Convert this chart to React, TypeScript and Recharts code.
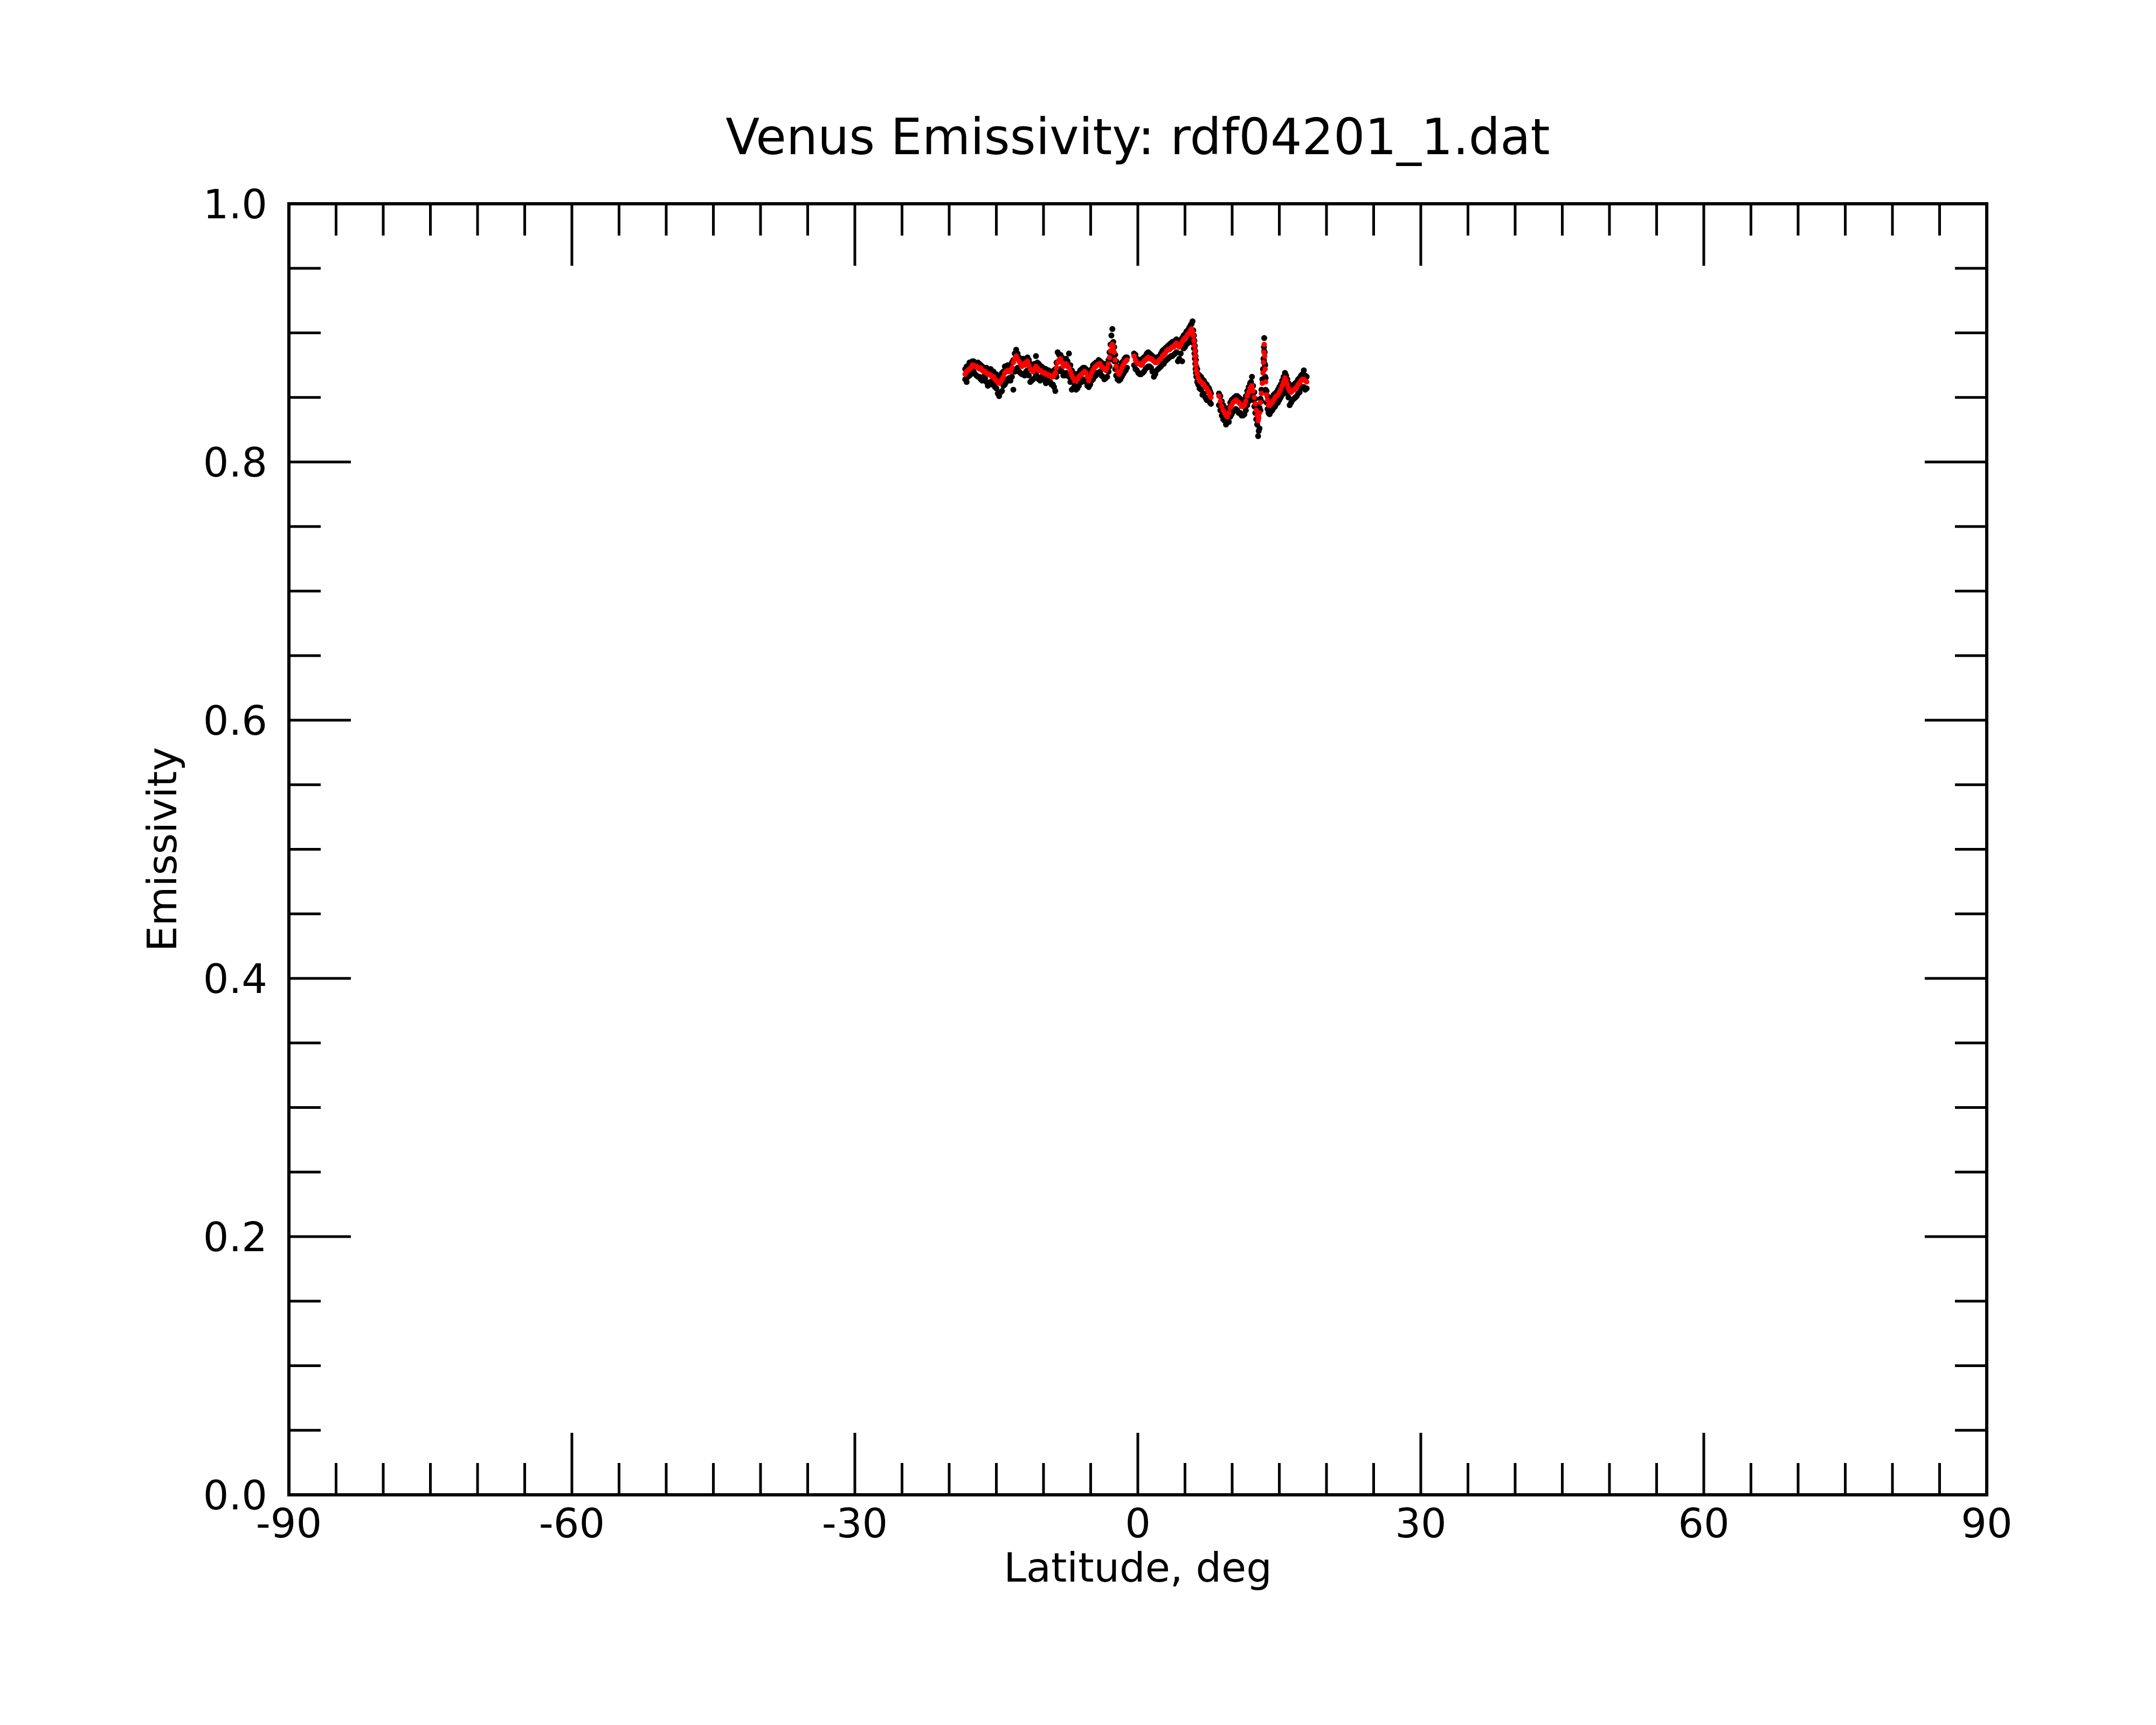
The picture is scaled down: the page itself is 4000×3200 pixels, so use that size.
import React from "react";
import { ScatterChart, Scatter, XAxis, YAxis, ReferenceArea } from "recharts";

// ---------- data ----------
// first sampling pass
const latitudes = [
  -18.3, -18.0, -17.7, -17.4, -17.1, -16.8, -16.5, -16.2, -15.9, -15.6,
  -15.3, -15.0, -14.7, -14.4, -14.1, -13.8, -13.5, -13.2, -12.9, -12.6,
  -12.3, -12.0, -11.7, -11.4, -11.1, -10.8, -10.5, -10.2, -9.9, -9.6,
  -9.3, -9.0, -8.75, -8.5, -8.2, -7.9, -7.6, -7.3, -7.0, -6.7,
  -6.4, -6.1, -5.8, -5.5, -5.2, -4.9, -4.6, -4.3, -4.0, -3.7,
  -3.4, -3.1, -2.9, -2.7, -2.5, -2.3, -2.0, -1.7, -1.4, -1.15,
  -0.4, -0.1, 0.2, 0.5, 0.8, 1.1, 1.4, 1.7, 2.0, 2.3,
  2.6, 2.9, 3.2, 3.5, 3.8, 4.1, 4.4, 4.7, 5.0, 5.3,
  5.6, 5.8, 5.95, 6.05, 6.12, 6.2, 6.4, 6.7, 7.0, 7.3,
  7.55, 7.75, 8.6, 8.9, 9.2, 9.5, 9.8, 10.1, 10.4, 10.7,
  11.0, 11.3, 11.6, 11.9, 12.1, 12.35, 12.55, 12.75, 12.9, 13.0,
  13.1, 13.2, 13.27, 13.32, 13.37, 13.4, 13.45, 13.5, 13.55, 13.65,
  13.85, 14.1, 14.4, 14.7, 15.0, 15.3, 15.6, 15.85, 16.1, 16.4,
  16.7, 17.0, 17.3, 17.6, 17.9,
];

const redEmissivity = [
  0.868, 0.871, 0.873, 0.875, 0.874, 0.872, 0.871, 0.870, 0.868, 0.867,
  0.866, 0.863, 0.861, 0.864, 0.869, 0.871, 0.870, 0.877, 0.882, 0.878,
  0.874, 0.875, 0.878, 0.872, 0.870, 0.874, 0.871, 0.870, 0.869, 0.868,
  0.867, 0.866, 0.869, 0.877, 0.880, 0.874, 0.876, 0.873, 0.867, 0.863,
  0.864, 0.867, 0.869, 0.869, 0.863, 0.869, 0.873, 0.875, 0.876, 0.873,
  0.871, 0.876, 0.886, 0.891, 0.885, 0.874, 0.868, 0.873, 0.877, 0.879,
  0.882, 0.877, 0.876, 0.876, 0.879, 0.881, 0.880, 0.878, 0.877, 0.879,
  0.882, 0.884, 0.887, 0.888, 0.889, 0.892, 0.889, 0.893, 0.896, 0.899,
  0.902, 0.901, 0.894, 0.886, 0.878, 0.871, 0.865, 0.862, 0.860, 0.857,
  0.854, 0.850, 0.851, 0.843, 0.838, 0.835, 0.842, 0.846, 0.848, 0.846,
  0.843, 0.844, 0.851, 0.857, 0.859, 0.850, 0.840, 0.832, 0.838, 0.846,
  0.853, 0.861, 0.869, 0.877, 0.885, 0.891, 0.882, 0.872, 0.862, 0.852,
  0.844, 0.845, 0.848, 0.851, 0.854, 0.859, 0.865, 0.860, 0.855, 0.855,
  0.857, 0.860, 0.863, 0.864, 0.862,
];

const blackUpperEmissivity = [
  0.872, 0.874, 0.877, 0.878, 0.876, 0.876, 0.874, 0.873, 0.871, 0.872,
  0.870, 0.868, 0.866, 0.869, 0.874, 0.875, 0.873, 0.879, 0.887, 0.881,
  0.879, 0.879, 0.881, 0.876, 0.874, 0.882, 0.876, 0.874, 0.872, 0.871,
  0.870, 0.869, 0.872, 0.885, 0.883, 0.878, 0.880, 0.884, 0.871, 0.868,
  0.867, 0.871, 0.873, 0.872, 0.867, 0.872, 0.876, 0.877, 0.878, 0.876,
  0.874, 0.879, 0.891, 0.903, 0.889, 0.878, 0.872, 0.877, 0.880, 0.881,
  0.884, 0.880, 0.879, 0.880, 0.882, 0.885, 0.883, 0.881, 0.881, 0.882,
  0.886, 0.888, 0.890, 0.892, 0.892, 0.895, 0.893, 0.896, 0.899, 0.902,
  0.906, 0.909, 0.898, 0.890, 0.882, 0.874, 0.868, 0.866, 0.863, 0.860,
  0.857, 0.853, 0.853, 0.847, 0.842, 0.839, 0.846, 0.849, 0.851, 0.850,
  0.847, 0.848, 0.855, 0.861, 0.866, 0.854, 0.844, 0.835, 0.842, 0.849,
  0.856, 0.864, 0.872, 0.880, 0.889, 0.896, 0.885, 0.875, 0.865, 0.855,
  0.847, 0.849, 0.852, 0.854, 0.858, 0.863, 0.869, 0.864, 0.859, 0.858,
  0.861, 0.864, 0.867, 0.871, 0.866,
];

const blackLowerEmissivity = [
  0.864, 0.866, 0.868, 0.870, 0.867, 0.866, 0.863, 0.865, 0.859, 0.862,
  0.860, 0.857, 0.851, 0.855, 0.860, 0.864, 0.863, 0.856, 0.872, 0.870,
  0.868, 0.867, 0.871, 0.862, 0.864, 0.868, 0.864, 0.866, 0.865, 0.864,
  0.862, 0.860, 0.855, 0.870, 0.872, 0.867, 0.869, 0.866, 0.856, 0.859,
  0.857, 0.862, 0.864, 0.862, 0.858, 0.863, 0.866, 0.869, 0.870, 0.866,
  0.865, 0.870, 0.880, 0.886, 0.878, 0.867, 0.863, 0.866, 0.870, 0.873,
  0.875, 0.871, 0.868, 0.869, 0.872, 0.874, 0.873, 0.866, 0.871, 0.873,
  0.876, 0.878, 0.880, 0.882, 0.883, 0.885, 0.880, 0.878, 0.889, 0.892,
  0.895, 0.896, 0.888, 0.880, 0.872, 0.866, 0.860, 0.856, 0.853, 0.848,
  0.848, 0.845, 0.844, 0.836, 0.832, 0.831, 0.835, 0.839, 0.841, 0.838,
  0.836, 0.837, 0.844, 0.850, 0.852, 0.843, 0.833, 0.820, 0.826, 0.840,
  0.847, 0.855, 0.863, 0.871, 0.879, 0.886, 0.876, 0.866, 0.856, 0.846,
  0.838, 0.839, 0.842, 0.845, 0.848, 0.852, 0.858, 0.853, 0.844, 0.848,
  0.850, 0.853, 0.857, 0.858, 0.857,
];

// second sampling pass (in-between latitudes)
const latitudesB = [
  -18.15, -17.85, -17.55, -17.25, -16.95, -16.65, -16.35, -16.05, -15.75, -15.45,
  -15.15, -14.85, -14.55, -14.25, -13.95, -13.65, -13.35, -13.05, -12.75, -12.45,
  -12.15, -11.85, -11.55, -11.25, -10.95, -10.65, -10.35, -10.05, -9.75, -9.45,
  -9.15, -8.88, -8.62, -8.35, -8.05, -7.75, -7.45, -7.15, -6.85, -6.55,
  -6.25, -5.95, -5.65, -5.35, -5.05, -4.75, -4.45, -4.15, -3.85, -3.55,
  -3.25, -3.0, -2.8, -2.6, -2.4, -2.15, -1.85, -1.55, -1.28,
  -0.25, 0.05, 0.35, 0.65, 0.95, 1.25, 1.55, 1.85, 2.15, 2.45,
  2.75, 3.05, 3.35, 3.65, 3.95, 4.25, 4.55, 4.85, 5.15, 5.45,
  5.7, 5.88, 6.0, 6.09, 6.16, 6.3, 6.55, 6.85, 7.15, 7.42,
  7.65, 8.75, 9.05, 9.35, 9.65, 9.95, 10.25, 10.55, 10.85, 11.15,
  11.45, 11.75, 12.0, 12.22, 12.45, 12.65, 12.82, 13.75, 13.97, 14.25,
  14.55, 14.85, 15.15, 15.45, 15.72, 15.97, 16.25, 16.55, 16.85, 17.15,
  17.45, 17.75,
];

const redEmissivityB = [
  0.870, 0.872, 0.875, 0.874, 0.873, 0.873, 0.870, 0.869, 0.868, 0.866,
  0.864, 0.862, 0.862, 0.866, 0.870, 0.870, 0.873, 0.880, 0.880, 0.876,
  0.876, 0.877, 0.875, 0.871, 0.872, 0.873, 0.871, 0.869, 0.868, 0.867,
  0.866, 0.867, 0.873, 0.879, 0.877, 0.875, 0.874, 0.870, 0.865, 0.863,
  0.866, 0.868, 0.870, 0.866, 0.866, 0.871, 0.874, 0.876, 0.874, 0.872,
  0.873, 0.881, 0.890, 0.889, 0.879, 0.870, 0.870, 0.875, 0.878,
  0.879, 0.876, 0.875, 0.878, 0.880, 0.880, 0.879, 0.877, 0.878, 0.880,
  0.883, 0.886, 0.887, 0.889, 0.891, 0.890, 0.891, 0.895, 0.897, 0.900,
  0.903, 0.898, 0.890, 0.882, 0.875, 0.868, 0.863, 0.861, 0.858, 0.855,
  0.852, 0.847, 0.840, 0.836, 0.838, 0.844, 0.847, 0.847, 0.845, 0.843,
  0.847, 0.854, 0.858, 0.855, 0.845, 0.836, 0.834, 0.848, 0.844, 0.846,
  0.850, 0.852, 0.856, 0.862, 0.863, 0.857, 0.854, 0.856, 0.858, 0.861,
  0.864, 0.863,
];

const blackUpperEmissivityB = [
  0.874, 0.877, 0.878, 0.876, 0.877, 0.875, 0.873, 0.873, 0.871, 0.870,
  0.868, 0.866, 0.867, 0.870, 0.873, 0.874, 0.877, 0.884, 0.884, 0.880,
  0.880, 0.880, 0.879, 0.875, 0.876, 0.877, 0.874, 0.873, 0.872, 0.871,
  0.870, 0.871, 0.877, 0.883, 0.881, 0.879, 0.878, 0.875, 0.869, 0.867,
  0.869, 0.872, 0.873, 0.870, 0.870, 0.875, 0.877, 0.879, 0.877, 0.876,
  0.876, 0.885, 0.898, 0.893, 0.883, 0.874, 0.874, 0.878, 0.881,
  0.883, 0.879, 0.879, 0.881, 0.884, 0.884, 0.882, 0.880, 0.881, 0.884,
  0.887, 0.889, 0.891, 0.893, 0.894, 0.894, 0.894, 0.898, 0.901, 0.904,
  0.907, 0.902, 0.894, 0.886, 0.879, 0.872, 0.867, 0.864, 0.861, 0.858,
  0.855, 0.851, 0.844, 0.840, 0.842, 0.848, 0.850, 0.851, 0.849, 0.847,
  0.851, 0.858, 0.862, 0.859, 0.849, 0.840, 0.838, 0.851, 0.848, 0.850,
  0.853, 0.856, 0.860, 0.866, 0.867, 0.861, 0.858, 0.860, 0.862, 0.865,
  0.868, 0.867,
];

const blackLowerEmissivityB = [
  0.862, 0.867, 0.869, 0.868, 0.866, 0.864, 0.866, 0.862, 0.861, 0.860,
  0.858, 0.853, 0.854, 0.859, 0.862, 0.865, 0.866, 0.870, 0.873, 0.869,
  0.868, 0.870, 0.867, 0.863, 0.865, 0.866, 0.863, 0.864, 0.861, 0.862,
  0.860, 0.858, 0.866, 0.871, 0.870, 0.867, 0.868, 0.862, 0.857, 0.856,
  0.859, 0.862, 0.863, 0.859, 0.860, 0.864, 0.867, 0.869, 0.867, 0.864,
  0.866, 0.874, 0.884, 0.882, 0.872, 0.864, 0.864, 0.868, 0.871,
  0.872, 0.869, 0.868, 0.870, 0.873, 0.874, 0.870, 0.868, 0.872, 0.874,
  0.876, 0.879, 0.881, 0.882, 0.884, 0.878, 0.884, 0.888, 0.891, 0.893,
  0.896, 0.892, 0.884, 0.876, 0.869, 0.862, 0.857, 0.852, 0.850, 0.848,
  0.846, 0.840, 0.833, 0.829, 0.831, 0.837, 0.840, 0.840, 0.838, 0.836,
  0.840, 0.847, 0.851, 0.848, 0.838, 0.829, 0.824, 0.841, 0.837, 0.840,
  0.843, 0.846, 0.850, 0.855, 0.856, 0.850, 0.846, 0.849, 0.851, 0.854,
  0.858, 0.856,
];

const latitudeTicks = [
  -90, -85, -80, -75, -70, -65, -60, -55, -50, -45, -40, -35, -30, -25, -20, -15, -10, -5,
  0, 5, 10, 15, 20, 25, 30, 35, 40, 45, 50, 55, 60, 65, 70, 75, 80, 85, 90,
];
const latitudeMajorTicks = [-90, -60, -30, 0, 30, 60, 90];
const emissivityTicks = [
  0, 0.05, 0.1, 0.15, 0.2, 0.25, 0.3, 0.35, 0.4, 0.45, 0.5,
  0.55, 0.6, 0.65, 0.7, 0.75, 0.8, 0.85, 0.9, 0.95, 1.0,
];
const emissivityMajorTicks = [0, 0.2, 0.4, 0.6, 0.8, 1.0];

const titleText = "Venus Emissivity: rdf04201_1.dat";
const xLabelText = "Latitude, deg";
const yLabelText = "Emissivity";

// ---------- built tables ----------
const pairUp = (lats: number[], vals: number[]) => lats.map((lat, i) => ({ lat, e: vals[i] }));
const redData = [...pairUp(latitudes, redEmissivity), ...pairUp(latitudesB, redEmissivityB)];
const blackUpperData = [...pairUp(latitudes, blackUpperEmissivity), ...pairUp(latitudesB, blackUpperEmissivityB)];
const blackLowerData = [...pairUp(latitudes, blackLowerEmissivity), ...pairUp(latitudesB, blackLowerEmissivityB)];

// ---------- styles ----------
const W = 3984;
const H = 3184;
const MARGIN = { top: 370, right: 306, bottom: 419, left: 528 };
const FONT = "'DejaVu Sans', sans-serif";
const MAJOR_LEN = 115;
const MINOR_LEN = 59;
const TICK_W = 5;

const isMajor = (v: number, majors: number[]) => majors.some((m) => Math.abs(m - v) < 1e-9);

const BottomTick = (p: any) => {
  const v = p.payload.value;
  const major = isMajor(v, latitudeMajorTicks);
  return (
    <g>
      <line x1={p.x} x2={p.x} y1={p.y} y2={p.y - (major ? MAJOR_LEN : MINOR_LEN)} stroke="#000" strokeWidth={TICK_W} />
      {major && (
        <text x={p.x} y={p.y + 79} textAnchor="middle" fontSize={75} fontFamily={FONT} fill="#000">
          {String(v)}
        </text>
      )}
    </g>
  );
};

const TopTick = (p: any) => {
  const v = p.payload.value;
  const major = isMajor(v, latitudeMajorTicks);
  return <line x1={p.x} x2={p.x} y1={p.y} y2={p.y + (major ? MAJOR_LEN : MINOR_LEN)} stroke="#000" strokeWidth={TICK_W} />;
};

const LeftTick = (p: any) => {
  const v = p.payload.value;
  const major = isMajor(v, emissivityMajorTicks);
  return (
    <g>
      <line x1={p.x} x2={p.x + (major ? MAJOR_LEN : MINOR_LEN)} y1={p.y} y2={p.y} stroke="#000" strokeWidth={TICK_W} />
      {major && (
        <text x={p.x - 40} y={p.y + 27} textAnchor="end" fontSize={75} fontFamily={FONT} fill="#000">
          {Number(v).toFixed(1)}
        </text>
      )}
    </g>
  );
};

const RightTick = (p: any) => {
  const v = p.payload.value;
  const major = isMajor(v, emissivityMajorTicks);
  return <line x1={p.x} x2={p.x - (major ? MAJOR_LEN : MINOR_LEN)} y1={p.y} y2={p.y} stroke="#000" strokeWidth={TICK_W} />;
};

const Dot = (color: string, r: number) => (props: any) =>
  <circle cx={props.cx} cy={props.cy} r={r} fill={color} />;

export default function App() {
  const plotCenterX = MARGIN.left + (W - MARGIN.left - MARGIN.right) / 2;
  const plotCenterY = MARGIN.top + (H - MARGIN.top - MARGIN.bottom) / 2;
  return (
    <div style={{ position: "relative", width: W, height: H, background: "#fff" }}>
      <ScatterChart width={W} height={H} margin={MARGIN}>
        <XAxis
          xAxisId="bottom"
          dataKey="lat"
          type="number"
          orientation="bottom"
          mirror
          domain={[-90, 90]}
          allowDataOverflow
          ticks={latitudeTicks}
          interval={0}
          tickSize={0}
          tickMargin={0}
          tickLine={false}
          axisLine={false}
          tick={BottomTick}
        />
        <XAxis
          xAxisId="top"
          dataKey="lat"
          type="number"
          orientation="top"
          mirror
          domain={[-90, 90]}
          allowDataOverflow
          ticks={latitudeTicks}
          interval={0}
          tickSize={0}
          tickMargin={0}
          tickLine={false}
          axisLine={false}
          tick={TopTick}
        />
        <YAxis
          yAxisId="left"
          dataKey="e"
          type="number"
          orientation="left"
          mirror
          domain={[0, 1]}
          allowDataOverflow
          ticks={emissivityTicks}
          interval={0}
          tickSize={0}
          tickMargin={0}
          tickLine={false}
          axisLine={false}
          tick={LeftTick}
        />
        <YAxis
          yAxisId="right"
          dataKey="e"
          type="number"
          orientation="right"
          mirror
          domain={[0, 1]}
          allowDataOverflow
          ticks={emissivityTicks}
          interval={0}
          tickSize={0}
          tickMargin={0}
          tickLine={false}
          axisLine={false}
          tick={RightTick}
        />
        <ReferenceArea
          xAxisId="bottom"
          yAxisId="left"
          x1={-90}
          x2={90}
          y1={0}
          y2={1}
          fill="none"
          fillOpacity={0}
          stroke="#000"
          strokeWidth={6}
          ifOverflow="visible"
        />
        <Scatter xAxisId="bottom" yAxisId="left" data={blackLowerData} dataKey="e" shape={Dot("#000", 5.5)} isAnimationActive={false} />
        <Scatter xAxisId="bottom" yAxisId="left" data={blackUpperData} dataKey="e" shape={Dot("#000", 5.5)} isAnimationActive={false} />
        <Scatter xAxisId="bottom" yAxisId="left" data={redData} dataKey="e" shape={Dot("#ff0000", 5)} isAnimationActive={false} />
      </ScatterChart>
      <svg width={W} height={H} style={{ position: "absolute", left: 0, top: 0, pointerEvents: "none" }}>
        <text x={plotCenterX} y={278} textAnchor="middle" fontSize={92} fontFamily={FONT} fill="#000">
          {titleText}
        </text>
        <text x={plotCenterX} y={2926} textAnchor="middle" fontSize={75} fontFamily={FONT} fill="#000">
          {xLabelText}
        </text>
        <text
          x={319}
          y={plotCenterY}
          textAnchor="middle"
          fontSize={75}
          fontFamily={FONT}
          fill="#000"
          transform={`rotate(-90, 319, ${plotCenterY})`}
        >
          {yLabelText}
        </text>
      </svg>
    </div>
  );
}
